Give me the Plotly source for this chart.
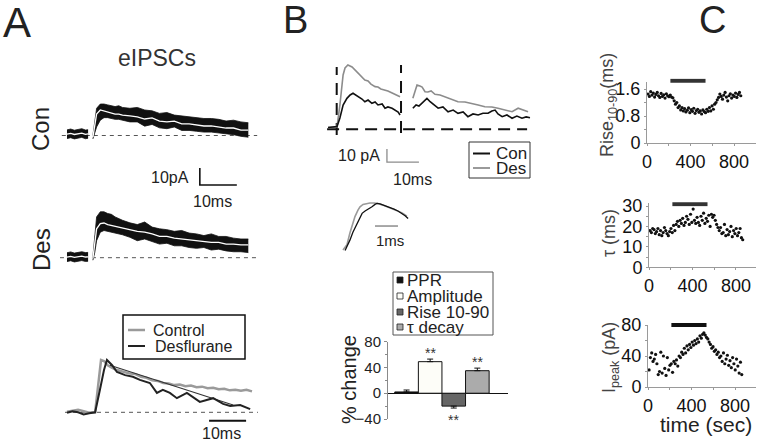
import plotly.graph_objects as go

W, H = 757, 443
FONT = "Liberation Sans, Arial, Helvetica, sans-serif"


def X(px):
    return px / W


def Y(py):
    return 1 - py / H


def xdom(a, b):
    return [X(a), X(b)]


def ydom(top, bottom):
    return [Y(bottom), Y(top)]


# ======================= DATA =======================
# ---- Panel A: superimposed eIPSC sweeps (ms, pA) ----
A_PRE_T = [0, 1, 2, 3, 4, 5, 5.7]
A_CON_PRE_MEAN = [0.8, 1.2, 0.6, 1.0, 1.4, 0.7, 0.9]
A_CON_PRE_UP = [3.3, 3.8, 3.1, 3.6, 4.0, 3.2, 3.4]
A_CON_PRE_LO = [-1.8, -1.3, -2.0, -1.5, -1.1, -1.9, -1.6]
A_DES_PRE_MEAN = [0.3, 0.8, 0.2, 0.6, 0.9, 0.4, 0.5]
A_DES_PRE_UP = [2.9, 3.4, 2.7, 3.2, 3.5, 3.0, 3.1]
A_DES_PRE_LO = [-2.3, -1.8, -2.5, -2.0, -1.7, -2.2, -2.1]

A_T = [7, 7.5, 8, 9, 10, 11, 12, 13, 14, 15, 17, 19, 21, 23, 25, 27, 29, 31,
       33, 35, 37, 39, 41, 43, 45, 47, 49]
A_CON_MEAN = [-1, 6, 12.6, 15, 14.4, 13.8, 13.2, 12.6, 12.6, 12, 11.5, 11, 9.7,
              10.3, 8.5, 8, 8.5, 6.8, 6.8, 6.2, 5.6, 5.6, 5, 4.4, 4.4, 3.2, 3.2]
A_CON_UP = [0, 10, 16, 18.5, 18.5, 18, 17.5, 17, 17.5, 16.5, 16, 16.5, 15,
            14.5, 13, 13.5, 12, 11.5, 11, 10.5, 10, 10, 9.5, 8.5, 9, 8, 7.5]
A_CON_LO = [-2, 1, 5, 9, 10.5, 10.5, 10, 9.5, 9.5, 9, 8, 8, 5.5, 6.5, 4.5, 4,
            5, 3, 3, 2.5, 2, 2, 1.5, 1, 0.5, -0.5, -1]
A_DES_MEAN = [-0.5, 8, 17, 20, 20.4, 19.5, 19, 18.5, 18, 17.5, 16.5, 15.5, 15,
              14, 12.5, 12.5, 11.5, 11, 10.5, 10, 9.5, 9, 9, 8, 8, 7.5, 7.5]
A_DES_UP = [0.5, 14, 24, 27, 27, 26, 25.5, 24, 23, 22, 20.5, 19.5, 21, 18, 17,
            16.5, 15.5, 16, 14.5, 14, 13, 14, 12.5, 12.5, 11.5, 11, 11]
A_DES_LO = [-1.5, 3, 10, 15, 16, 15.5, 15, 14.5, 14, 13.5, 12, 10, 11, 9.5, 8,
            8.5, 7, 7, 6, 5.5, 6, 4.5, 5, 4, 3.5, 3.5, 3]

# ---- Panel A bottom: normalised averaged eIPSCs ----
A_CTRL_T = [0, 1.5, 3, 4.5, 6, 7.6, 8.4, 9.2, 10, 11, 12, 13, 14, 15.5, 17,
            18.5, 20, 21.5, 23, 24.5, 26, 27.5, 29, 30.5, 32, 33.5, 35, 36.5,
            38, 39.5, 41, 42.5, 44, 45.5, 47, 48.5, 50]
A_CTRL_Y = [0.01, 0.03, 0.05, 0.02, -0.01, 0, 0.52, 1.0, 0.98, 0.9, 0.86, 0.82,
            0.8, 0.77, 0.74, 0.73, 0.68, 0.66, 0.61, 0.6, 0.56, 0.55, 0.52,
            0.53, 0.5, 0.51, 0.48, 0.49, 0.46, 0.47, 0.44, 0.45, 0.42, 0.43,
            0.41, 0.43, 0.40]
A_DESF_T = [0, 1.5, 3, 4.5, 6, 7.6, 8.9, 10, 10.8, 12.2, 13.5, 15.7, 17.8,
            19.7, 22.4, 24.3, 25.9, 27.8, 29.7, 32.4, 35.9, 39.5, 42.2, 44.1,
            46.8, 49.5]
A_DESF_Y = [-0.01, 0.02, 0.0, -0.04, -0.02, 0, 0.43, 0.81, 1.0, 0.9, 0.77,
            0.71, 0.68, 0.62, 0.56, 0.37, 0.43, 0.37, 0.27, 0.37, 0.2, 0.27,
            0.16, 0.12, 0.14, 0.06]
A_FIT_T = [11.6, 44.9]
A_FIT_Y = [0.9, 0.14]

# ---- Panel B top: paired-pulse eIPSCs (ms, pA) ----
B_DES_T1 = [-2.7, -1.2, 0.1, 1.0, 2.0, 2.6, 3.5, 4.8, 5.7, 6.7, 7.9, 8.8, 9.8,
            10.7, 12.0, 12.9, 13.8, 15.1, 16.0, 17.0, 18.2, 19.2, 19.8]
B_DES_Y1 = [1.4, 1.4, 1.8, 18.7, 41.8, 47.2, 49.5, 47.9, 45.6, 42.5, 39.5,
            37.9, 37.2, 34.8, 32.8, 32.5, 31.0, 30.2, 29.5, 28.3, 26.9, 26.0,
            25.1]
B_DES_T2 = [23.8, 24.5, 25.1, 26.0, 26.7, 27.6, 28.5, 29.5, 30.7, 32.3, 33.8,
            35.4, 37.9, 40.1, 42.3, 44.2, 46.3, 48.5, 50.4, 52.6, 54.8, 56.7,
            58.2, 59.8]
B_DES_Y2 = [23.8, 30.2, 34.1, 33.3, 32.5, 28.9, 28.7, 29.5, 26.9, 26.4, 25.1,
            23.3, 21.2, 21.0, 20.0, 18.7, 17.4, 17.2, 16.2, 14.8, 13.5, 16.2,
            14.8, 13.5]
B_CON_T1 = [-2.7, -1.2, 0.1, 1.0, 2.0, 3.2, 4.2, 5.1, 6.0, 6.7, 7.9, 8.8, 9.8,
            11.0, 12.0, 12.9, 14.2, 15.1, 16.0, 17.3, 18.2, 19.2, 19.8]
B_CON_Y1 = [1.4, 1.8, 2.2, 8.7, 18.7, 23.8, 26.4, 27.7, 26.4, 25.1, 23.3,
            21.2, 22.5, 20.0, 21.0, 18.7, 19.5, 16.2, 17.2, 16.2, 14.8, 13.3,
            11.0]
B_CON_T2 = [23.8, 24.8, 25.7, 26.7, 27.6, 28.2, 29.2, 30.1, 31.7, 33.2, 34.8,
            36.4, 37.9, 39.5, 41.0, 42.6, 44.2, 45.7, 47.3, 48.5, 49.5, 50.4,
            51.7, 53.2, 54.8, 56.3, 57.9, 59.2, 60.4]
B_CON_Y2 = [16.2, 18.7, 17.9, 20.0, 21.8, 23.8, 21.2, 19.5, 16.2, 17.2, 13.5,
            14.8, 12.3, 13.3, 9.7, 11.8, 11.0, 12.3, 12.3, 14.1, 14.8, 11.8,
            9.7, 11.0, 8.5, 10.2, 8.5, 9.5, 8.9]

# ---- Panel B inset: normalised rising phase (ms) ----
B_IN_DES_T = [0, 0.17, 0.30, 0.43, 0.52, 0.65, 0.74, 0.87, 1.0, 1.17, 1.35,
              1.52, 1.70, 1.91, 2.13, 2.35, 2.57, 2.78]
B_IN_DES_Y = [0, 0.11, 0.36, 0.57, 0.71, 0.85, 0.92, 0.97, 0.99, 1.0, 1.0,
              0.99, 0.96, 0.92, 0.88, 0.84, 0.79, 0.72]
B_IN_CON_T = [0.09, 0.22, 0.30, 0.43, 0.61, 0.74, 0.83, 0.96, 1.04, 1.17,
              1.26, 1.39, 1.48, 1.61, 1.74, 1.91, 2.04, 2.22, 2.39, 2.57, 2.70,
              2.83]
B_IN_CON_Y = [-0.01, 0.11, 0.21, 0.38, 0.57, 0.72, 0.78, 0.83, 0.85, 0.89,
              0.92, 0.97, 0.99, 0.98, 0.96, 0.93, 0.90, 0.87, 0.83, 0.78, 0.73,
              0.67]

# ---- Panel B bars: % change ----
BAR_CATS = ["PPR", "Amplitude", "Rise 10-90", "τ decay"]
BAR_VALS = [2, 49, -20, 35]
BAR_ERR = [3, 4, 3, 4]
BAR_COLORS = ["#111111", "#fdfdf8", "#666666", "#ababab"]
BAR_SIG = ["", "**", "**", "**"]

# ---- Panel C: time courses ----
C_T = [10, 22, 34, 46, 58, 70, 82, 94, 106, 118, 130, 142, 154, 166, 178, 190,
       202, 214, 226, 238, 250, 262, 274, 286, 298, 310, 322, 334, 346, 358,
       370, 382, 394, 406, 418, 430, 442, 454, 466, 478, 490, 502, 514, 526,
       538, 550, 562, 574, 586, 598, 610, 622, 634, 646, 658, 670, 682, 694,
       706, 718, 730, 742, 754, 766, 778, 790, 802, 814, 826, 838, 850, 862]
C_RISE = [1.45, 1.38, 1.52, 1.42, 1.48, 1.36, 1.44, 1.5, 1.4, 1.35, 1.47, 1.38,
          1.43, 1.33, 1.46, 1.4, 1.37, 1.42, 1.36, 1.34,
          1.25, 1.15, 1.2, 1.05, 1.1,
          0.98, 1.05, 0.95, 1.02, 0.92, 0.97, 1.04, 0.9, 0.99, 0.94, 1.03, 0.88,
          0.96, 1.0, 0.91, 0.95, 0.86, 0.98, 0.93, 0.9, 1.0, 0.94,
          1.05, 0.95, 1.1, 1.0, 1.15, 1.2, 1.28, 1.35,
          1.45, 1.38, 1.3, 1.42, 1.5, 1.36, 1.25, 1.4, 1.46, 1.33, 1.42, 1.38,
          1.48, 1.35, 1.44, 1.5, 1.4]
C_TAU = [18, 17, 19, 18.5, 16.5, 17.5, 19, 16, 18, 15.5, 17, 19.5, 18, 16.5,
         15.5, 17.5,
         19, 17, 20.5, 18,
         21, 22.5, 20, 23, 21.5, 24, 20.5, 22, 25, 23.5, 21, 26, 22, 28.5, 23,
         21.5, 24.5, 22, 20.5, 25, 23, 26.5, 21.5, 24, 22.5, 25.5, 20,
         26, 24.5, 25.5, 23, 21, 19.5,
         18, 19.5, 16.5, 17, 21, 15.5, 18.5, 16, 17.5, 20, 15, 18, 16.5, 19,
         15.5, 17, 19, 14.5, 13.5]
C_IPEAK = [22, 38, 44, 33, 36, 42, 30, 16, 20, 45,
           18, 40, 24, 15, 38, 22, 28, 30, 19, 33,
           30, 35, 27, 40, 38, 45, 42, 50, 44, 53, 48, 55, 51, 58, 54, 60, 56,
           62, 58, 66, 63, 68, 70, 67, 64, 62, 58,
           55, 50, 52, 46, 48, 42, 45, 38, 40, 33, 44, 30, 36, 41, 28, 34, 25,
           38, 30, 22, 36, 27, 18, 32, 16]
C_DRUG = [215, 538]

# ======================= FIGURE =======================
fig = go.Figure()


def line(x, y, ax, color, width, dash=None, **kw):
    fig.add_trace(go.Scatter(
        x=x, y=y, mode="lines", xaxis="x" + ax, yaxis="y" + ax,
        line=dict(color=color, width=width, dash=dash),
        hoverinfo="skip", showlegend=False, **kw))


def band(t, up, lo, mean, ax):
    line(t, up, ax, "#111111", 0.8)
    line(t, lo, ax, "#111111", 0.8, fill="tonexty", fillcolor="#111111")
    line(t, mean, ax, "#ffffff", 1.3)


# Panel A, Con (axis 1) and Des (axis 2)
line([-1.4, 51.4], [0, 0], "1", "#555555", 1, dash="4px,4px")
band(A_PRE_T, A_CON_PRE_UP, A_CON_PRE_LO, A_CON_PRE_MEAN, "1")
band(A_T, A_CON_UP, A_CON_LO, A_CON_MEAN, "1")
line([35.9, 35.9, 45.9], [-19.1, -29.1, -29.1], "1", "#111111", 1.6)

line([-1.9, 51.4], [0, 0], "2", "#555555", 1, dash="4px,4px")
band(A_PRE_T, A_DES_PRE_UP, A_DES_PRE_LO, A_DES_PRE_MEAN, "2")
band(A_T, A_DES_UP, A_DES_LO, A_DES_MEAN, "2")

# Panel A bottom (axis 3)
line([-0.54, 51.6], [0, 0], "3", "#555555", 1, dash="4px,4px")
line(A_CTRL_T, A_CTRL_Y, "3", "#9a9a9a", 2.5)
line(A_FIT_T, A_FIT_Y, "3", "#333333", 1.1)
line(A_DESF_T, A_DESF_Y, "3", "#222222", 2)
line([38.4, 48.4], [-0.16, -0.16], "3", "#111111", 2)

# Panel B top (axis 4)
line([-3.0, 59.5], [0, 0], "4", "#111111", 2, dash="12px,7px")
line([0, 0], [-4.4, 47.9], "4", "#111111", 2, dash="12px,8px")
line([20.1, 20.1], [-2.8, 49.5], "4", "#111111", 2, dash="12px,8px")
line(B_DES_T1, B_DES_Y1, "4", "#8c8c8c", 1.6)
line(B_DES_T2, B_DES_Y2, "4", "#8c8c8c", 1.6)
line(B_CON_T1, B_CON_Y1, "4", "#111111", 1.6)
line(B_CON_T2, B_CON_Y2, "4", "#111111", 1.6)
line([15.7, 15.7, 25.7], [-15.2, -25.2, -25.2], "4", "#8c8c8c", 1.3)

# Panel B inset (axis 5)
line(B_IN_DES_T, B_IN_DES_Y, "5", "#9a9a9a", 1.6)
line(B_IN_CON_T, B_IN_CON_Y, "5", "#111111", 1.3)
line([1.39, 2.39], [0.51, 0.51], "5", "#8c8c8c", 1.5)

# Panel B bar chart (axis 6)
fig.add_trace(go.Bar(
    x=list(range(len(BAR_CATS))), y=BAR_VALS, width=1, xaxis="x6", yaxis="y6",
    marker=dict(color=BAR_COLORS, line=dict(color="#111111", width=1)),
    error_y=dict(type="data", symmetric=False,
                 array=[e if v >= 0 else 0 for v, e in zip(BAR_VALS, BAR_ERR)],
                 arrayminus=[e if v < 0 else 0 for v, e in zip(BAR_VALS, BAR_ERR)],
                 color="#111111", thickness=1, width=3),
    hoverinfo="skip", showlegend=False))

# Panel C scatter plots (axes 7, 8, 9) + drug bars (y10, y11, y12)
for ax, vals, bar_ax, bar_col in (("7", C_RISE, "10", "#333333"),
                                  ("8", C_TAU, "11", "#333333"),
                                  ("9", C_IPEAK, "12", "#111111")):
    fig.add_trace(go.Scatter(
        x=C_T, y=vals, mode="markers", xaxis="x" + ax, yaxis="y" + ax,
        marker=dict(color="#111111", size=3.2), hoverinfo="skip",
        showlegend=False))
    fig.add_trace(go.Scatter(
        x=C_DRUG, y=[0.5, 0.5], mode="lines", xaxis="x" + ax,
        yaxis="y" + bar_ax, line=dict(color=bar_col, width=4.5),
        hoverinfo="skip", showlegend=False))

# ---------------- axes ----------------
def hidden(dom, rng, anchor):
    return dict(domain=dom, range=rng, visible=False, fixedrange=True,
                anchor=anchor, showgrid=False, zeroline=False,
                automargin=False)


A_XR = [-1.89, 52.16]
lay = {}
lay["xaxis"] = hidden(xdom(60, 260), A_XR, "y")
lay["yaxis"] = hidden(ydom(95, 190), [-32.06, 23.82], "x")
lay["xaxis2"] = hidden(xdom(60, 260), A_XR, "y2")
lay["yaxis2"] = hidden(ydom(200, 270), [-7.24, 33.94], "x2")
lay["xaxis3"] = hidden(xdom(60, 260), A_XR, "y3")
lay["yaxis3"] = hidden(ydom(300, 443), [-0.587, 2.147], "x3")
lay["xaxis4"] = hidden(xdom(320, 535), [-5.22, 61.97], "y4")
lay["yaxis4"] = hidden(ydom(55, 185), [-42.85, 57.15], "x4")
lay["xaxis5"] = hidden(xdom(335, 415), [-0.348, 3.13], "y5")
lay["yaxis5"] = hidden(ydom(195, 255), [-0.106, 1.170], "x5")

lay["xaxis6"] = dict(domain=xdom(388, 508), range=[-0.787, 4.30],
                     showline=False, showticklabels=False, ticks="",
                     showgrid=False, zeroline=False, anchor="y6",
                     fixedrange=True, automargin=False)
lay["yaxis6"] = dict(domain=ydom(341.7, 419), range=[-40, 80],
                     showline=True, linecolor="#8a8a8a", linewidth=1,
                     ticks="outside", ticklen=3, tickcolor="#8a8a8a",
                     tickvals=[-40, 0, 40, 80],
                     minor=dict(tickvals=[-20, 20, 60], ticklen=2,
                                tickcolor="#8a8a8a", ticks="outside"),
                     tickfont=dict(size=15, color="#222222", family=FONT),
                     showgrid=False, zeroline=True, zerolinecolor="#111111",
                     zerolinewidth=1.3, anchor="x6", fixedrange=True,
                     automargin=False)


def c_axes(n, xd, xr, yd, yr, yvals, yminor):
    lay["xaxis" + n] = dict(
        domain=xd, range=xr, showline=True, linecolor="#9a9a9a", linewidth=1,
        ticks="outside", ticklen=2, tickcolor="#9a9a9a",
        tickvals=[0, 400, 800],
        minor=dict(tickvals=[200, 600], ticklen=2, tickcolor="#9a9a9a",
                   ticks="outside"),
        tickfont=dict(size=18, color="#111111", family=FONT),
        showgrid=False, zeroline=False, anchor="y" + n, fixedrange=True,
        automargin=False)
    lay["yaxis" + n] = dict(
        domain=yd, range=yr, showline=True, linecolor="#9a9a9a", linewidth=1,
        ticks="outside", ticklen=2, tickcolor="#9a9a9a",
        tickvals=yvals,
        minor=dict(tickvals=yminor, ticklen=2, tickcolor="#9a9a9a",
                   ticks="outside"),
        tickfont=dict(size=18, color="#111111", family=FONT),
        showgrid=False, zeroline=False, anchor="x" + n, fixedrange=True,
        automargin=False)


c_axes("7", xdom(647, 756), [0, 1002], ydom(82.25, 143), [0, 1.8],
       [0, 0.8, 1.6], [0.4, 1.2])
c_axes("8", xdom(649, 756), [0, 984], ydom(203, 267.3), [0, 31.5],
       [0, 10, 20, 30], [5, 15, 25])
c_axes("9", xdom(648, 756), [0, 993], ydom(325, 387), [0, 80],
       [0, 40, 80], [20, 60])
lay["yaxis10"] = hidden(ydom(78.7, 82.7), [0, 1], "x7")
lay["yaxis11"] = hidden(ydom(202.2, 206.2), [0, 1], "x8")
lay["yaxis12"] = hidden(ydom(323, 327), [0, 1], "x9")

# ---------------- text ----------------
ann = []


def txt(s, px, py, size, color="#222222", angle=0, xanchor="center"):
    ann.append(dict(text=s, x=X(px), y=Y(py), xref="paper", yref="paper",
                    showarrow=False, textangle=angle, xanchor=xanchor,
                    yanchor="middle",
                    font=dict(size=size, color=color, family=FONT)))


txt("A", 17, 22, 42)
txt("B", 295, 20, 38)
txt("C", 712, 20, 38)
txt("eIPSCs", 157, 58, 23, "#333333")
txt("Con", 40, 129, 24, angle=-90)
txt("Des", 41, 250, 24, angle=-90)
txt("10pA", 170, 177, 16)
txt("10ms", 212, 201, 16)
txt("10ms", 221, 433, 16)
txt("Control", 151, 330, 16, xanchor="left")
txt("Desflurane", 153, 346, 16, xanchor="left")
txt("10 pA", 359, 155, 16)
txt("10ms", 412, 179, 16)
txt("Con", 494, 153, 17, xanchor="left")
txt("Des", 494, 168, 17, xanchor="left")
txt("1ms", 390, 240, 15)
for lbl, py in zip(BAR_CATS, [280, 296, 312, 327]):
    txt(lbl, 405, py, 17, xanchor="left")
txt("% change", 349, 380, 20, angle=-90)
for i, (s, v, e) in enumerate(zip(BAR_SIG, BAR_VALS, BAR_ERR)):
    if s:
        ann.append(dict(text=s, x=i, xref="x6", yref="paper",
                        y=Y(353 if i == 1 else (420 if v < 0 else 362)),
                        showarrow=False, yanchor="middle",
                        font=dict(size=14, color="#333333", family=FONT)))
txt("Rise<sub>10-90</sub>(ms)", 608, 105, 18, "#444444", angle=-90)
txt("τ (ms)", 609, 233, 18, "#444444", angle=-90)
txt("I<sub>peak</sub> (pA)", 610, 358, 18, "#444444", angle=-90)
txt("time (sec)", 706, 424, 21)

# ---------------- legend boxes (shapes) ----------------
shapes = []


def rect(x0, y0, x1, y1, lc, lw, fill="rgba(0,0,0,0)"):
    shapes.append(dict(type="rect", xref="paper", yref="paper",
                       x0=X(x0), x1=X(x1), y0=Y(y1), y1=Y(y0),
                       line=dict(color=lc, width=lw), fillcolor=fill))


def seg(x0, x1, py, color, width):
    shapes.append(dict(type="line", xref="paper", yref="paper",
                       x0=X(x0), x1=X(x1), y0=Y(py), y1=Y(py),
                       line=dict(color=color, width=width)))


rect(123, 315, 245, 359, "#111111", 1.5)
seg(128, 145, 330, "#9a9a9a", 2.5)
seg(128, 145, 346, "#222222", 2)
rect(469, 142, 530, 178, "#333333", 1)
seg(473, 490, 153.5, "#111111", 2)
seg(473, 490, 168, "#9a9a9a", 2)
rect(393, 272, 493, 335, "#555555", 1)
for c, py in zip(BAR_COLORS, [280, 296, 312, 327]):
    rect(397, py - 3, 403, py + 3, "#222222", 0.8, c)

fig.update_layout(
    template="none",
    width=W, height=H, autosize=False,
    margin=dict(l=0, r=0, t=0, b=0, pad=0),
    paper_bgcolor="white", plot_bgcolor="rgba(0,0,0,0)",
    showlegend=False, bargap=0, annotations=ann, shapes=shapes,
    font=dict(family=FONT), **lay)

fig.write_html(
    "out.html",
    config={"displayModeBar": False, "staticPlot": True},
    post_script="document.body.style.margin='0px';"
                "document.body.style.padding='0px';"
                "document.body.style.overflow='hidden';")
